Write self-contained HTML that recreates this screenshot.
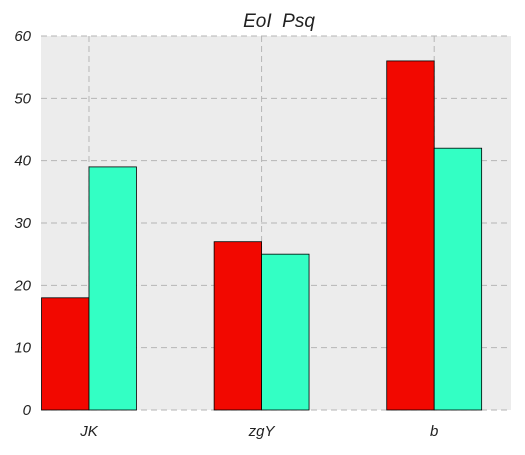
<!DOCTYPE html>
<html><head><meta charset="utf-8"><style>
body{margin:0;background:#fff;}
svg text{font-family:"Liberation Sans",sans-serif;font-style:italic;fill:#222;}
</style></head><body>
<svg id="c" width="525" height="450" xmlns="http://www.w3.org/2000/svg"></svg>
<script>
const categories = ["JK", "zgY", "b"];
const seriesRed = [18, 27, 56];
const seriesCyan = [39, 25, 42];
const yTicks = [0, 10, 20, 30, 40, 50, 60];
const NS = "http://www.w3.org/2000/svg";
const svg = document.getElementById("c");
const L = 41, R = 511, T = 36, B = 410;
const xMin = -0.278, xMax = 2.445, yMax = 60, bw = 0.275;
const X = v => L + (v - xMin) / (xMax - xMin) * (R - L);
const Y = v => B - v / yMax * (B - T);
function el(tag, attrs) { const e = document.createElementNS(NS, tag); for (const k in attrs) e.setAttribute(k, attrs[k]); svg.appendChild(e); return e; }
const bg = el("rect", {x: L, y: T, width: R - L, height: B - T, fill: "#ececec"});


yTicks.forEach(t => {
  const g = el("line", {x1: L, x2: R, y1: Y(t), y2: Y(t), stroke: "#b5b5b5", "stroke-dasharray": "6,4", "stroke-width": 1});
  
  
  const tx = el("text", {x: L - 10, y: Y(t) + 5, "text-anchor": "end", "font-size": 15});
  tx.textContent = t;
  
  
});
categories.forEach((c, i) => {
  const g = el("line", {x1: X(i), x2: X(i), y1: T, y2: B, stroke: "#b5b5b5", "stroke-dasharray": "6,4", "stroke-width": 1});
  
  
});
categories.forEach((c, i) => {
  const r = el("rect", {x: X(i - bw), y: Y(seriesRed[i]), width: X(i) - X(i - bw), height: B - Y(seriesRed[i]), fill: "#f20800", stroke: "#000", "stroke-width": 0.8});
  
  
  const b = el("rect", {x: X(i), y: Y(seriesCyan[i]), width: X(i + bw) - X(i), height: B - Y(seriesCyan[i]), fill: "#33ffc4", stroke: "#000", "stroke-width": 0.8});
  
  
  const tx = el("text", {x: X(i), y: 436, "text-anchor": "middle", "font-size": 15});
  tx.textContent = c;
  
  
});
const title = el("text", {x: 279, y: 27, "text-anchor": "middle", "font-size": 19, style: "white-space:pre"});
title.textContent = "EoI  Psq";


</script>
</body></html>
